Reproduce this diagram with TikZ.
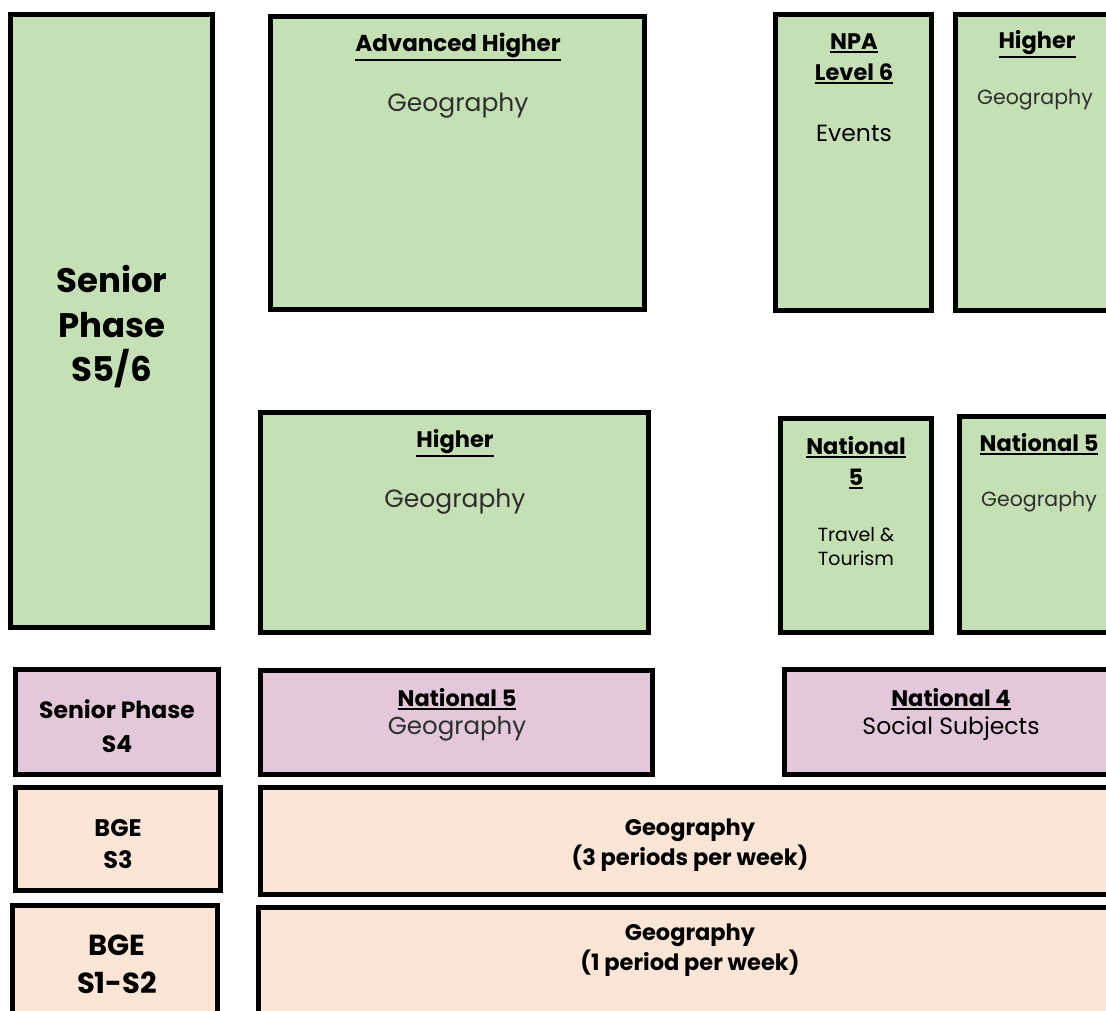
\documentclass[tikz,border=0pt]{standalone}
\usepackage{fontspec}
\setmainfont{Poppins}
\newcommand\uline[1]{\leavevmode\vtop{\hbox{#1}\kern1.6pt\hrule height 2pt}}
\definecolor{gfill}{HTML}{C5E0B4}
\definecolor{pfill}{HTML}{E2C8DA}
\definecolor{ofill}{HTML}{FBE5D6}
\definecolor{gtext}{HTML}{2E2E2E}
\newcommand\mybox[6]{\node[box,fill=#6,minimum width={#4-#2-5},minimum height={#5-#3-5}] (#1) at ({(#2+#4)/2},{(#3+#5)/2}) {};}
\newcommand\fs[2]{\fontsize{#1}{#2}\selectfont}
\begin{document}
\begin{tikzpicture}[x=1pt,y=-1pt,
  box/.style={draw=black,line width=5pt,inner sep=0pt,rectangle},
  txt/.style={align=center,inner sep=0pt,text=black}]
\useasboundingbox (0,0) rectangle (1106,1011);
\clip (0,0) rectangle (1106,1011);
% boxes
\mybox{s56}{8}{12}{215}{630}{gfill}
\mybox{adv}{268}{14}{647}{312}{gfill}
\mybox{npa}{773}{12}{934}{313}{gfill}
\mybox{hiR}{953}{12}{1120}{313}{gfill}
\mybox{hiM}{258}{410}{651}{635}{gfill}
\mybox{ntt}{778}{416}{934}{635}{gfill}
\mybox{ngR}{957}{414}{1120}{635}{gfill}
\mybox{s4}{13}{667}{221}{777}{pfill}
\mybox{n5p}{258}{668}{655}{777}{pfill}
\mybox{n4}{782}{667}{1120}{777}{pfill}
\mybox{s3}{13}{785}{223}{893}{ofill}
\mybox{g3}{258}{785}{1120}{897}{ofill}
\mybox{s12}{10}{903}{220}{1030}{ofill}
\mybox{g1}{256}{905}{1120}{1030}{ofill}
% texts
\begin{scope}[yshift=-2pt]
\node[txt,font=\fs{34}{44.5}\bfseries] (t56) at (112,325) {Senior\\Phase\\S5/6};
\node[txt,font=\fs{23}{30}\bfseries] (tadv) at (458,45) {\uline{Advanced Higher}};
\node[txt,font=\fs{25}{30},text=gtext] (tadvg) at (458,104) {Geography};
\node[txt,font=\fs{22.5}{31}\bfseries] (tnpa) at (854,57) {\uline{NPA}\\\uline{Level 6}};
\node[txt,font=\fs{23.5}{30}] (tnpae) at (854,131) {Events};
\node[txt,font=\fs{22.5}{30}\bfseries] (thiR) at (1037,42) {\uline{Higher}};
\node[txt,font=\fs{20.5}{30},text=gtext] (thiRg) at (1035,98) {Geography};
\node[txt,font=\fs{22.5}{30}\bfseries] (thiM) at (455,441) {\uline{Higher}};
\node[txt,font=\fs{25}{30},text=gtext] (thiMg) at (455,500) {Geography};
\node[txt,font=\fs{22.5}{31}\bfseries] (tntt) at (856,461) {\uline{National}\\\uline{5}};
\node[txt,font=\fs{19}{24}] (tnttt) at (856,545) {Travel \&\\Tourism};
\node[txt,font=\fs{22.5}{30}\bfseries] (tngR) at (1039,442) {\uline{National 5}};
\node[txt,font=\fs{20.5}{30},text=gtext] (tngRg) at (1039,500) {Geography};
\node[txt,font=\fs{23.5}{34}\bfseries] (ts4) at (117,724) {Senior Phase\\S4};
\node[txt,font=\fs{22.5}{30}\bfseries] (tn5p) at (457,697) {\uline{National 5}};
\node[txt,font=\fs{24.5}{30},text=gtext] (tn5pg) at (457,727) {Geography};
\node[txt,font=\fs{22.5}{30}\bfseries] (tn4) at (951,697) {\uline{National 4}};
\node[txt,font=\fs{23.5}{30}] (tn4s) at (951,727) {Social Subjects};
\node[txt,font=\fs{24}{32}\bfseries] (ts3) at (118,842) {BGE\\S3};
\node[txt,font=\fs{22.5}{30}\bfseries] (tg3) at (690,843) {Geography\\(3 periods per week)};
\node[txt,font=\fs{29}{38}\bfseries] (ts12) at (117,962) {BGE\\S1-S2};
\node[txt,font=\fs{22.5}{30}\bfseries] (tg1) at (690,948) {Geography\\(1 period per week)};
\end{scope}
\end{tikzpicture}
\end{document}
